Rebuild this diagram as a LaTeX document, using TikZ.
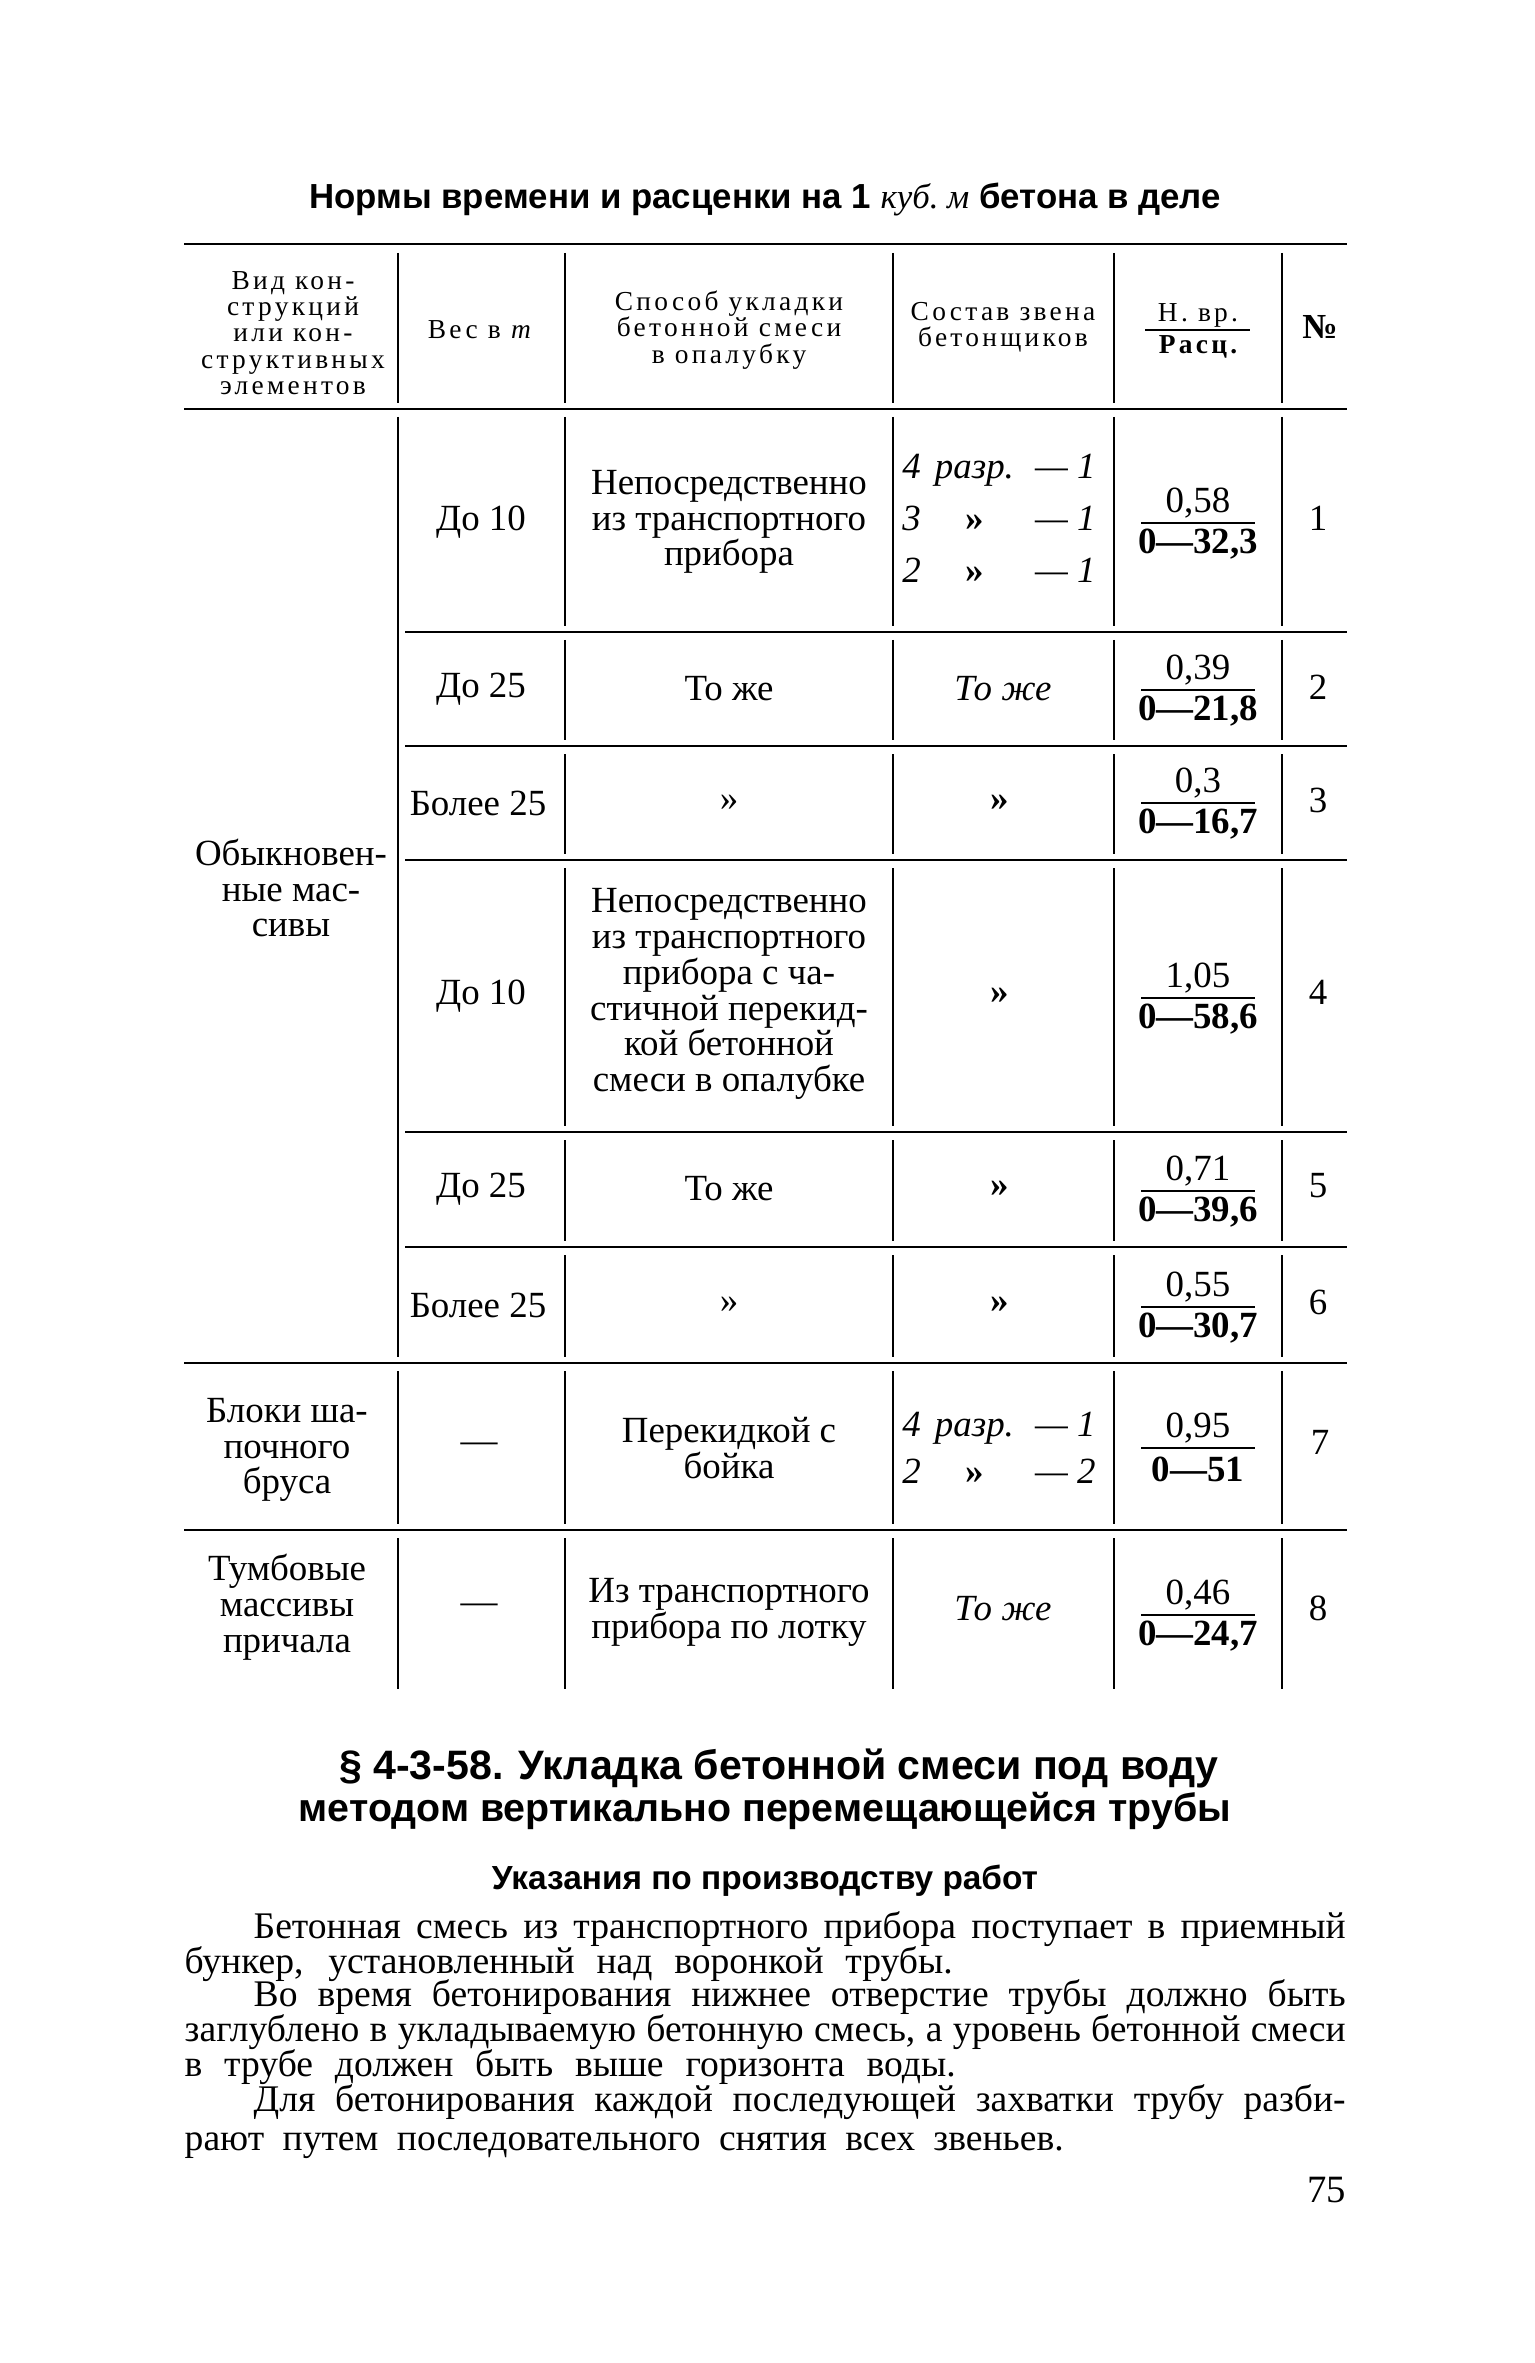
\documentclass[tikz,border=0pt]{standalone}
\usepackage{fontspec}
\setmainfont{Liberation Serif}
\newfontfamily\headsans{Liberation Sans}
\newfontfamily\capfont[LetterSpace=12]{Liberation Serif}

\begin{document}
\begin{tikzpicture}
[x=0.1mm,y=-0.1mm,
rule/.style={line width=0.75pt},
colline/.style={line width=0.55pt},
fracline/.style={line width=0.6pt},
cell/.style={inner sep=0pt,align=center,font=\fontsize{10.5}{10.2}\selectfont},
itcell/.style={inner sep=0pt,align=center,font=\fontsize{10.5}{10.2}\selectfont\itshape},
crew/.style={inner sep=0pt,font=\fontsize{10.5}{14.8}\selectfont\itshape},
headcell/.style={inner sep=0pt,align=center,font=\capfont\fontsize{7.8}{7.5}\selectfont},
caption/.style={inner sep=0pt,font=\headsans\bfseries\fontsize{9.9}{11}\selectfont},
section/.style={inner sep=0pt,font=\headsans\bfseries\fontsize{11.5}{12}\selectfont},
textline/.style={inner sep=0pt,anchor=west,text height=7.5pt,text depth=2pt,font=\fontsize{10.7}{11}\selectfont}]

\useasboundingbox[fill=white] (0,0) rectangle (1535,2363);

% Columns
\def \xL{184}
\def \xA{398}
\def \xB{565}
\def \xC{893}
\def \xD{1114}
\def \xE{1282}
\def \xR{1347}

% Fraction of norm and rate
\def\normfrac#1#2#3#4{%
	\node[cell] (#1num) at (1198,#2-20) {#3};
	\node[cell,font=\fontsize{10.5}{10.2}\selectfont\bfseries] (#1den) at (1198,#2+21) {#4};
	\draw[fracline] (1141,#2) -- (1255,#2);
}
\def\crewtab#1{\begin{tabular}{@{}l@{\hspace{4pt}}c@{\hspace{6pt}}r@{}}#1\end{tabular}}

% Title
\node[caption] (title) at (765,200) {Нормы времени и расценки на 1 {\rmfamily\mdseries\itshape куб.~м} бетона в деле};

% Drawing rules
\draw[rule] (\xL,244) -- (\xR,244);
\draw[rule] (\xL,409) -- (\xR,409);
\foreach \y in {632,746,860,1132,1247}
	\draw[rule] (\xA+7,\y) -- (\xR,\y);
\draw[rule] (\xL,1363) -- (\xR,1363);
\draw[rule] (\xL,1530) -- (\xR,1530);

% Drawing column lines
\foreach \x in {\xA,\xB,\xC,\xD,\xE}
	\draw[colline] (\x,253) -- (\x,403);
\draw[colline] (\xA,417) -- (\xA,1357);
\foreach \t/\b in {417/626,640/740,754/854,868/1126,1140/1241,1255/1357} {
	\foreach \x in {\xB,\xC,\xD,\xE}
		\draw[colline] (\x,\t) -- (\x,\b);
}
\foreach \t/\b in {1371/1524,1538/1689} {
	\foreach \x in {\xA,\xB,\xC,\xD,\xE}
		\draw[colline] (\x,\t) -- (\x,\b);
}

% Header
\node[headcell] (hKind) at (293,333) {Вид кон-\\струкций\\или кон-\\структивных\\элементов};
\node[headcell] (hWeight) at (481,330) {Вес в \textit{т}};
\node[headcell] (hMethod) at (729,330) {Способ укладки\\бетонной смеси\\в опалубку};
\node[headcell] (hCrew) at (1003,327) {Состав звена\\бетонщиков};
\node[headcell] (hTime) at (1198,315) {Н. вр.};
\node[headcell,font=\capfont\fontsize{7.8}{7.5}\selectfont\bfseries] (hRate) at (1198,347) {Расц.};
\draw[fracline] (1145,330) -- (1250,330);
\node[cell,font=\fontsize{10}{10}\selectfont\bfseries] (hNo) at (1320,327) {№};

% Ordinary massifs
\node[cell] (kindA) at (291,888) {Обыкновен-\\ные мас-\\сивы};

\node[cell] (wA) at (481,522) {До 10};
\node[cell] (mA) at (729,522) {Непосредственно\\из транспортного\\прибора};
\node[crew] (cA) at (999,520) {\crewtab{4 & разр. & — 1\\3 & \textbf{\upshape »} & — 1\\2 & \textbf{\upshape »} & — 1}};
\normfrac{rA}{523}{0,58}{0—32,3}
\node[cell] (nA) at (1318,518) {1};

\node[cell] (wB) at (481,689) {До 25};
\node[cell] (mB) at (729,689) {То же};
\node[itcell] (cB) at (1003,689) {То же};
\normfrac{rB}{690}{0,39}{0—21,8}
\node[cell] (nB) at (1318,687) {2};

\node[cell] (wC) at (478,803) {Более 25};
\node[cell] (mC) at (729,803) {»};
\node[cell,font=\fontsize{10.5}{10.2}\selectfont\bfseries] (cC) at (1000,803) {»};
\normfrac{rC}{803}{0,3}{0—16,7}
\node[cell] (nC) at (1318,800) {3};

\node[cell] (wD) at (481,996) {До 10};
\node[cell] (mD) at (729,994) {Непосредственно\\из транспортного\\прибора с ча-\\стичной перекид-\\кой бетонной\\смеси в опалубке};
\node[cell,font=\fontsize{10.5}{10.2}\selectfont\bfseries] (cD) at (1000,996) {»};
\normfrac{rD}{998}{1,05}{0—58,6}
\node[cell] (nD) at (1318,992) {4};

\node[cell] (wE) at (481,1189) {До 25};
\node[cell] (mE) at (729,1189) {То же};
\node[cell,font=\fontsize{10.5}{10.2}\selectfont\bfseries] (cE) at (1000,1189) {»};
\normfrac{rE}{1191}{0,71}{0—39,6}
\node[cell] (nE) at (1318,1186) {5};

\node[cell] (wF) at (478,1305) {Более 25};
\node[cell] (mF) at (729,1305) {»};
\node[cell,font=\fontsize{10.5}{10.2}\selectfont\bfseries] (cF) at (1000,1305) {»};
\normfrac{rF}{1307}{0,55}{0—30,7}
\node[cell] (nF) at (1318,1302) {6};

% Cap beam blocks
\node[cell] (kindG) at (287,1450) {Блоки ша-\\почного\\бруса};
\node[cell] (wG) at (479,1448) {—};
\node[cell] (mG) at (729,1448) {Перекидкой с\\бойка};
\node[crew,font=\fontsize{10.5}{13.3}\selectfont\itshape] (cG) at (999,1451) {\crewtab{4 & разр. & — 1\\2 & \textbf{\upshape »} & — 2}};
\normfrac{rG}{1448}{0,95}{0—51}
\node[cell] (nG) at (1320,1442) {7};

% Pedestal massifs
\node[cell] (kindH) at (287,1607) {Тумбовые\\массивы\\причала};
\node[cell] (wH) at (479,1609) {—};
\node[cell] (mH) at (729,1612) {Из транспортного\\прибора по лотку};
\node[itcell] (cH) at (1003,1609) {То же};
\normfrac{rH}{1615}{0,46}{0—24,7}
\node[cell] (nH) at (1318,1608) {8};

% Section text
\node[section,font=\headsans\bfseries\fontsize{11.7}{12}\selectfont] (secA) at (779,1768) {§ 4-3-58. Укладка бетонной смеси под воду};
\node[section,font=\headsans\bfseries\fontsize{11.2}{12}\selectfont] (secB) at (765,1811) {методом вертикально перемещающейся трубы};
\node[caption,font=\headsans\bfseries\fontsize{9.5}{10}\selectfont] (hint) at (765,1881) {Указания по производству работ};

\node[textline] (parA) at (253,1929) {\makebox[109.2mm][s]{Бетонная смесь из транспортного прибора поступает в приемный}};
\node[textline] (parB) at (184,1964) {\makebox[76.8mm][s]{бункер, установленный над воронкой трубы.}};
\node[textline] (parC) at (253,1997) {\makebox[109.2mm][s]{Во время бетонирования нижнее отверстие трубы должно быть}};
\node[textline] (parD) at (184,2032) {\makebox[116.1mm][s]{заглублено в укладываемую бетонную смесь, а уровень бетонной смеси}};
\node[textline] (parE) at (184,2067) {\makebox[77.1mm][s]{в трубе должен быть выше горизонта воды.}};
\node[textline] (parF) at (253,2102) {\makebox[109.2mm][s]{Для бетонирования каждой последующей захватки трубу разби-}};
\node[textline] (parG) at (184,2141) {\makebox[87.9mm][s]{рают путем последовательного снятия всех звеньев.}};

\node[cell,anchor=east,font=\fontsize{11}{12}\selectfont] (page) at (1347,2190) {75};
\end{tikzpicture}
\end{document}
